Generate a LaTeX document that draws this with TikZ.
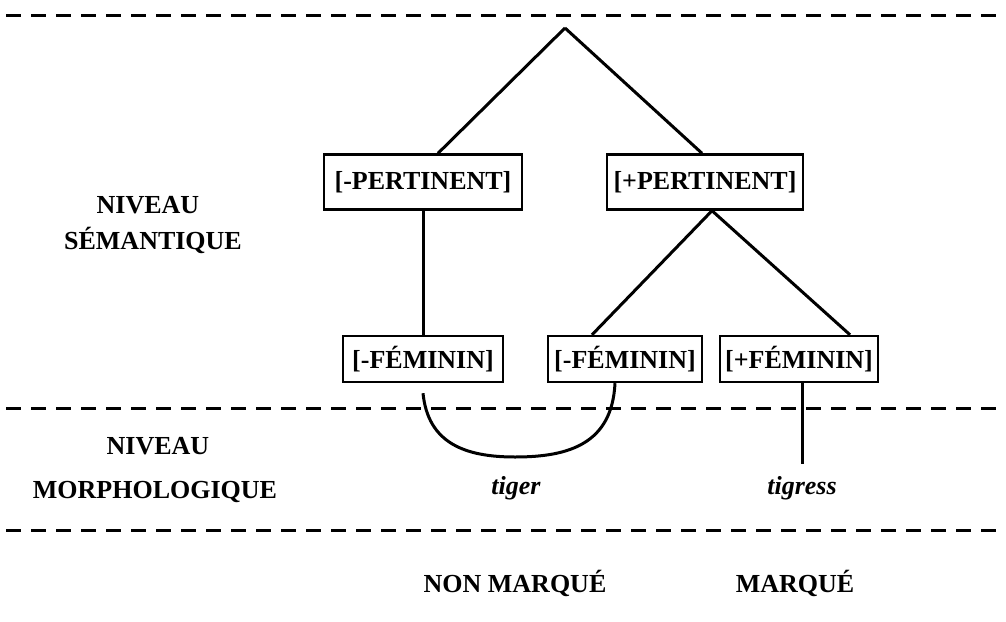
\documentclass[tikz,border=0pt]{standalone}
\usepackage{fontspec}
\setmainfont{Liberation Serif}
\usetikzlibrary{calc}

\begin{document}
\begin{tikzpicture}[x=1pt,y=-1pt,font=\fontsize{26}{30}\selectfont\bfseries, line width=3pt,
  featbox/.style={draw,line width=2.4pt,inner sep=0pt,minimum height=#1}, featbox/.default=55pt,
  levelline/.style={line width=3pt,dash pattern=on 15pt off 10pt}]

\useasboundingbox (0,0) rectangle (1006,621);

\begin{scope}
\coordinate (apex) at (565,28);
\coordinate (arcbot) at (515,457);

\draw[levelline] (6,15) -- (1006,15);
\draw[levelline] (6,408) -- (1006,408);
\draw[levelline] (6,530) -- (1006,530);

\node[featbox,minimum width=198pt] (pminus) at (423,182) {[-PERTINENT]};
\node[featbox,minimum width=196pt] (pplus) at (705,182) {[+PERTINENT]};

\node[featbox=46pt,minimum width=160pt] (fminus) at (423,359) {[-FÉMININ]};
\node[featbox=46pt,minimum width=154pt] (fmid) at (625,359) {[-FÉMININ]};
\node[featbox=46pt,minimum width=158pt] (fplus) at (799,359) {[+FÉMININ]};

\node (tiger) at (516,488) {\itshape tiger};
\node (tigress) at (802,488) {\itshape tigress};
\coordinate (tigresstop) at (802,464);

\node at (148,205) {NIVEAU};
\node at (153,240) {SÉMANTIQUE};
\node at (158,446) {NIVEAU};
\node at (155,492) {MORPHOLOGIQUE};
\node at (515,583) {NON MARQUÉ};
\node at (795,583) {MARQUÉ};

\draw (apex) -- ([xshift=15pt]pminus.north);
\draw (apex) -- ([xshift=-3pt]pplus.north);
\draw (pminus.south) -- (fminus.north);
\draw ([xshift=7pt]pplus.south) -- ([xshift=-33pt]fmid.north);
\draw ([xshift=7pt]pplus.south) -- ([xshift=51pt]fplus.north);
\draw ([yshift=-10pt]fminus.south) .. controls +(5,50) and +(-50,0) .. (arcbot)
  .. controls +(55,0) and +(-3,60) .. ([xshift=-10pt]fmid.south);
\draw ([xshift=3pt]fplus.south) -- (tigresstop);
\end{scope}

\end{tikzpicture}
\end{document}
